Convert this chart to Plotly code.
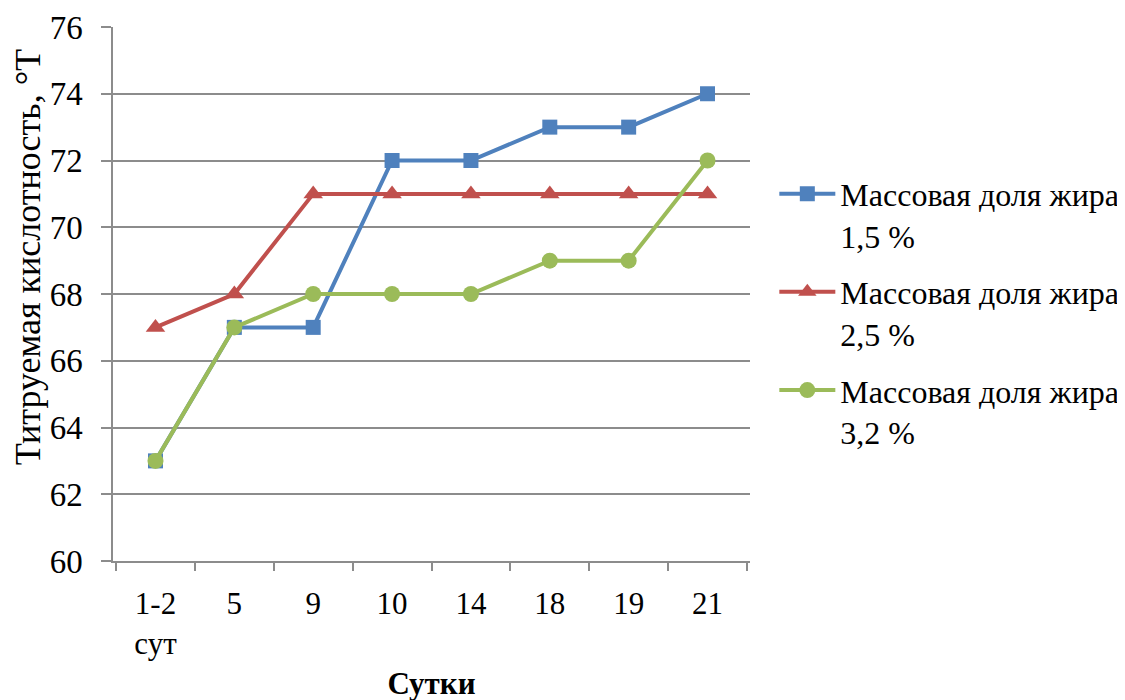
import plotly.graph_objects as go

categories = ["1-2<br>сут", "5", "9", "10", "14", "18", "19", "21"]
fat_15 = [63, 67, 67, 72, 72, 73, 73, 74]
fat_25 = [67, 68, 71, 71, 71, 71, 71, 71]
fat_32 = [63, 67, 68, 68, 68, 69, 69, 72]
series_names = ["Массовая доля жира<br>1,5 %", "Массовая доля жира<br>2,5 %", "Массовая доля жира<br>3,2 %"]
y_ticks = [60, 62, 64, 66, 68, 70, 72, 74, 76]
y_title = "Титруемая кислотность, °Т"
x_title = "Сутки"

FONT = "Liberation Serif"
fig = go.Figure()
styles = [
    ("#4F81BD", "square", 15),
    ("#C0504D", "triangle-up", 17),
    ("#9BBB59", "circle", 16),
]
for i, (vals, name) in enumerate(zip([fat_15, fat_25, fat_32], series_names)):
    color, sym, size = styles[i]
    fig.add_trace(go.Scatter(
        x=categories, y=vals, name=name, mode="lines+markers",
        line=dict(color=color, width=4),
        marker=dict(symbol=sym, size=size, color=color),
        legendgroup=f"g{i}",
    ))

fig.add_annotation(
    text=y_title, textangle=-90, xref="paper", yref="paper",
    x=0, y=0.569, xanchor="center", yanchor="middle", xshift=-85,
    showarrow=False, borderpad=0, font=dict(family=FONT, size=36, color="black"),
)

fig.update_layout(
    width=1125, height=700,
    margin=dict(l=105, r=383, t=19, b=147, autoexpand=False),
    paper_bgcolor="white", plot_bgcolor="white",
    font=dict(family=FONT, size=30, color="black"),
    showlegend=True,
    legend=dict(x=1.079 - 26 / 637, y=0.739, xanchor="left", yanchor="top",
                valign="top", tracegroupgap=12, itemwidth=56,
                font=dict(family=FONT, size=32, color="black"),
                bgcolor="rgba(0,0,0,0)"),
    xaxis=dict(
        type="category", categoryorder="array", categoryarray=categories,
        automargin=False,
        showgrid=False, showline=True, linecolor="#8C8C8C", linewidth=1.5,
        ticks="outside", tickson="boundaries", ticklen=8, tickcolor="#8C8C8C", tickwidth=1.5,
        ticklabelstandoff=14,
        tickfont=dict(family=FONT, size=31),
        title=dict(text=f"<b>{x_title}</b>", font=dict(family=FONT, size=31), standoff=12),
    ),
    yaxis=dict(
        range=[60, 76], tickvals=y_ticks, automargin=False,
        showgrid=True, gridcolor="#8C8C8C", gridwidth=1.5,
        showline=True, linecolor="#8C8C8C", linewidth=1.5, zeroline=False,
        ticks="outside", ticklen=10, tickcolor="#8C8C8C", tickwidth=1.5,
        ticklabelstandoff=12,
        tickfont=dict(family=FONT, size=33),
    ),
)

fig.write_html("out.html")
